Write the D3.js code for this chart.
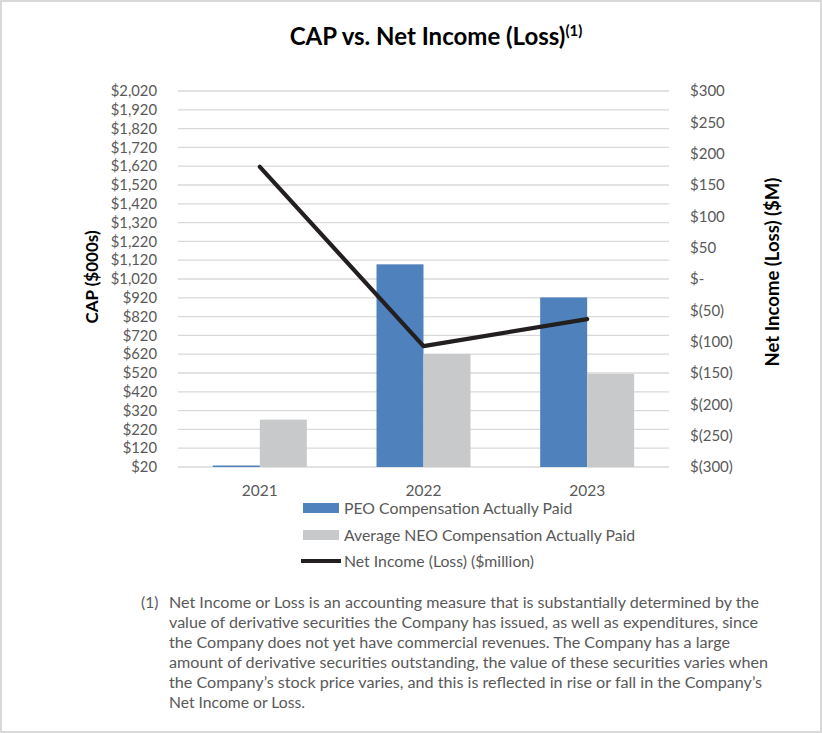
<!DOCTYPE html>
<html>
<head>
<meta charset="utf-8">
<script src="https://cdn.jsdelivr.net/npm/d3@7"></script>
<style>
  html, body { margin: 0; padding: 0; background: #fff; }
  svg { display: block; }
  text { font-family: Lato, "Open Sans", sans-serif; }
</style>
</head>
<body>
<svg id="chart" width="822" height="733"></svg>
<script>
// ---- data ----
const categories = ["2021", "2022", "2023"];
const peoCAP = [28, 1098, 922];          // PEO Compensation Actually Paid ($000s)
const neoCAP = [272, 621, 515];          // Average NEO Compensation Actually Paid ($000s)
const netIncome = [179, -107, -64];      // Net Income (Loss) ($million)
const leftTicks = d3.range(20, 2021, 100);
const rightTicks = d3.range(-300, 301, 50);
const seriesNames = ["PEO Compensation Actually Paid", "Average NEO Compensation Actually Paid", "Net Income (Loss) ($million)"];
const footnoteLines = [
  "Net Income or Loss is an accounting measure that is substantially determined by the",
  "value of derivative securities the Company has issued, as well as expenditures, since",
  "the Company does not yet have commercial revenues. The Company has a large",
  "amount of derivative securities outstanding, the value of these securities varies when",
  "the Company\u2019s stock price varies, and this is reflected in rise or fall in the Company\u2019s",
  "Net Income or Loss."
];
const footnoteWidths = [590, 589, 561, 599, 593, 136];

// ---- layout ----
const svg = d3.select("#chart");
const W = 822, H = 733;
const plot = { left: 178, right: 669, top: 91, bottom: 467 };
const blue = "#4F81BD", gray = "#C8C9CB", lineCol = "#231F20", tickCol = "#595959";

svg.append("rect").attr("x", 1).attr("y", 1).attr("width", W - 2).attr("height", H - 2)
  .attr("fill", "#fff").attr("stroke", "#d9d9d9").attr("stroke-width", 2);

const x = d3.scaleBand().domain(categories).range([plot.left, plot.right]).paddingInner(0).paddingOuter(0);
const xs = d3.scaleBand().domain(["peo", "neo"]).range([0, x.bandwidth()]).paddingInner(0).paddingOuter(0.7415);
const yL = d3.scaleLinear().domain([20, 2020]).range([plot.bottom, plot.top]);
const yR = d3.scaleLinear().domain([-300, 300]).range([plot.bottom, plot.top]);

// gridlines
svg.append("g").selectAll("line").data(leftTicks).join("line")
  .attr("x1", plot.left).attr("x2", plot.right)
  .attr("y1", d => yL(d)).attr("y2", d => yL(d))
  .attr("stroke", "#d9d9d9").attr("stroke-width", 1.3);

// left axis
const fmtL = d => "$" + d3.format(",")(d);
const axL = svg.append("g").attr("transform", `translate(${plot.left - 21},0)`)
  .call(d3.axisLeft(yL).tickValues(leftTicks).tickFormat(fmtL).tickSize(0).tickPadding(0));
axL.select(".domain").remove();
axL.selectAll("text").attr("fill", tickCol).style("font-size", "14.8px").style("font-family", "Lato");

// right axis
const fmtR = d => d === 0 ? "$-" : (d < 0 ? "$(" + Math.abs(d) + ")" : "$" + d);
const axR = svg.append("g").attr("transform", `translate(${plot.right + 21},0)`)
  .call(d3.axisRight(yR).tickValues(rightTicks).tickFormat(fmtR).tickSize(0).tickPadding(0));
axR.select(".domain").remove();
axR.selectAll("text").attr("fill", tickCol).style("font-size", "15px").style("font-family", "Lato");

// x axis labels
const axX = svg.append("g").attr("transform", `translate(0,${plot.bottom + 24})`)
  .call(d3.axisBottom(x).tickSize(0).tickPadding(0));
axX.select(".domain").remove();
axX.selectAll("text").attr("fill", tickCol).attr("dy", "0.32em").style("font-size", "15.5px").style("font-family", "Lato");

// bars
const bars = svg.append("g");
bars.selectAll("rect.peo").data(categories).join("rect").attr("class", "peo")
  .attr("x", d => x(d) + xs("peo")).attr("width", xs.bandwidth())
  .attr("y", (d, i) => yL(peoCAP[i])).attr("height", (d, i) => yL(20) - yL(peoCAP[i]))
  .attr("fill", blue);
bars.selectAll("rect.neo").data(categories).join("rect").attr("class", "neo")
  .attr("x", d => x(d) + xs("neo")).attr("width", xs.bandwidth())
  .attr("y", (d, i) => yL(neoCAP[i])).attr("height", (d, i) => yL(20) - yL(neoCAP[i]))
  .attr("fill", gray);

// line
const line = d3.line().x((d, i) => x(categories[i]) + x.bandwidth() / 2).y(d => yR(d));
svg.append("path").datum(netIncome).attr("d", line)
  .attr("fill", "none").attr("stroke", lineCol).attr("stroke-width", 4.2)
  .attr("stroke-linejoin", "round").attr("stroke-linecap", "round");

// axis titles
svg.append("text").attr("transform", "translate(98,277) rotate(-90)")
  .attr("text-anchor", "middle").attr("font-weight", "bold").attr("font-size", 17).attr("fill", "#000")
  .text("CAP ($000s)");
svg.append("text").attr("transform", "translate(779,272) rotate(-90)")
  .attr("text-anchor", "middle").attr("font-weight", "bold").attr("font-size", 18.5).attr("fill", "#000")
  .text("Net Income (Loss) ($M)");

// title
const title = svg.append("text").attr("x", 436).attr("y", 45).attr("text-anchor", "middle")
  .attr("font-weight", "bold").attr("fill", "#000");
title.append("tspan").attr("font-size", 24).text("CAP vs. Net Income (Loss)");
title.append("tspan").attr("font-size", 15).attr("dy", -9).text("(1)");

// legend
const lg = svg.append("g");
const rowY = [508, 535, 561];
lg.append("rect").attr("x", 303).attr("y", rowY[0] - 5).attr("width", 36).attr("height", 10).attr("fill", blue);
lg.append("rect").attr("x", 303).attr("y", rowY[1] - 5).attr("width", 36).attr("height", 10).attr("fill", gray);
lg.append("line").attr("x1", 301).attr("x2", 341).attr("y1", rowY[2]).attr("y2", rowY[2])
  .attr("stroke", lineCol).attr("stroke-width", 4.2);
lg.selectAll("text").data(seriesNames).join("text")
  .attr("x", 344).attr("y", (d, i) => rowY[i]).attr("dy", "0.35em")
  .attr("font-size", 15.8).attr("fill", tickCol).text(d => d);

// footnote
const fn = svg.append("g");
fn.append("text").attr("x", 141).attr("y", 608).attr("font-size", 15.5).attr("fill", tickCol).text("(1)");
fn.selectAll("text.l").data(footnoteLines).join("text").attr("class", "l")
  .attr("x", 169).attr("y", (d, i) => 608 + i * 20)
  .attr("font-size", 15.5).attr("fill", tickCol)
  .attr("textLength", (d, i) => footnoteWidths[i]).attr("lengthAdjust", "spacingAndGlyphs")
  .text(d => d);
</script>
</body>
</html>
